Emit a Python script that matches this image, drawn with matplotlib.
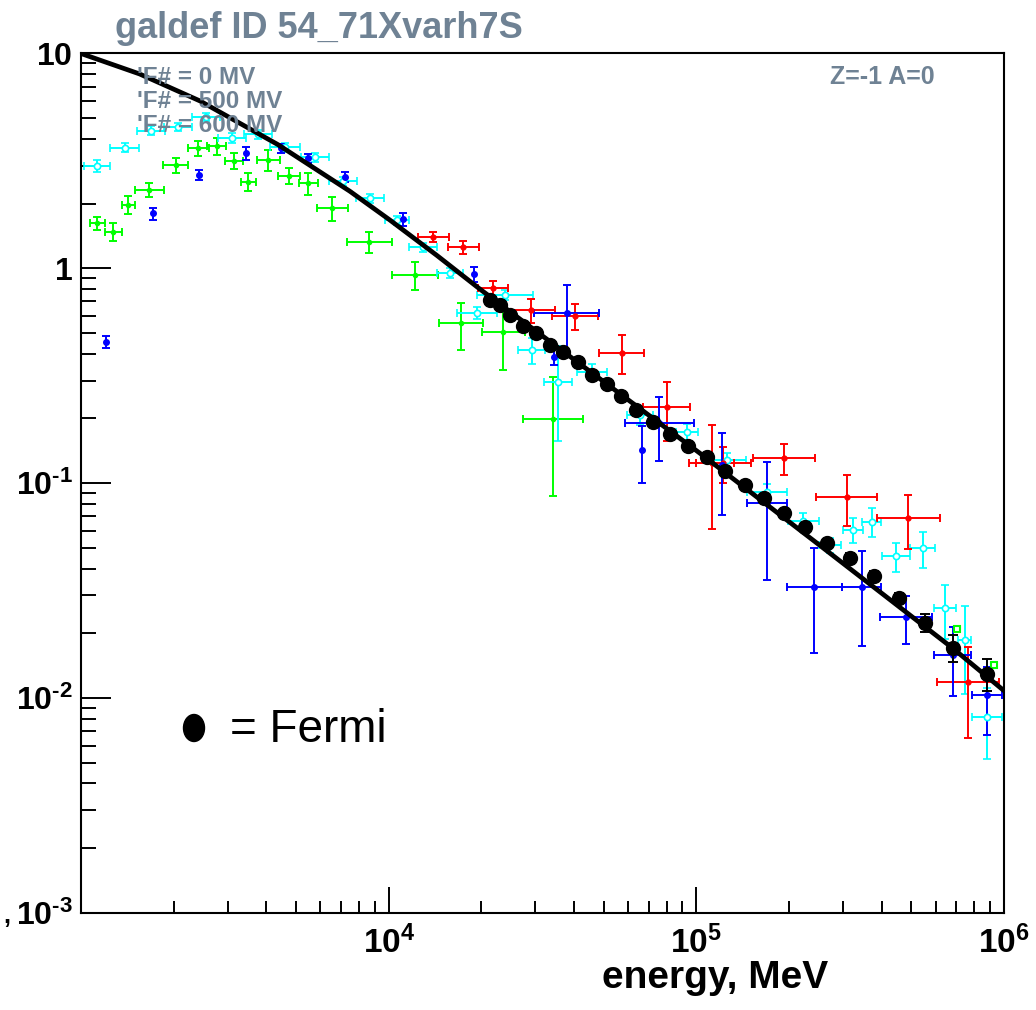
import numpy as np
import matplotlib
matplotlib.use('Agg')
import matplotlib.pyplot as plt
from matplotlib.patches import Ellipse
from matplotlib.ticker import LogLocator, NullFormatter

#%% data (energy in MeV, flux in plot units)
model_E = [1000, 1549, 2438, 4365, 7482, 10093, 14350, 19820, 41880, 102800, 252300, 682300, 1000000]
model_F = [9.98, 8.02, 6.0, 3.76, 2.28, 1.675, 1.146, 0.798, 0.358, 0.1375, 0.0512, 0.0170, 0.0108]

fermi_E = [21340, 23000, 24800, 27330, 30110, 33440, 36850, 41240, 45780, 51230, 56880, 63630, 72270, 82100,
           93900, 108200, 123900, 143900, 165900, 192600, 225400, 265700, 315600, 377800, 455400, 553400, 682300, 879800]
fermi_F = [0.7108, 0.6739, 0.6083, 0.5354, 0.4966, 0.4412, 0.4094, 0.3677, 0.3199, 0.2904, 0.2555, 0.2199, 0.1933, 0.1700,
           0.1495, 0.1315, 0.1143, 0.0984, 0.0856, 0.0729, 0.0627, 0.0528, 0.0450, 0.0371, 0.0293, 0.0224, 0.01715, 0.01298]
fermi_dF = [0.02, 0.02, 0.02, 0.015, 0.015, 0.013, 0.012, 0.011, 0.01, 0.009, 0.008, 0.007, 0.006, 0.005,
            0.005, 0.004, 0.004, 0.003, 0.003, 0.003, 0.0025, 0.002, 0.002, 0.0018, 0.0015, 0.0022, 0.0024, 0.0022]

green_E = [1130, 1274, 1425, 1667, 2031, 2405, 2761, 3142, 3498, 4061, 4753, 5480, 6557, 8650, 12180, 17140, 23580, 34120]
green_F = [1.618, 1.478, 1.968, 2.311, 3.011, 3.612, 3.702, 3.163, 2.526, 3.187, 2.685, 2.483, 1.899, 1.328, 0.929, 0.554, 0.506, 0.199]
green_dF = [0.11, 0.14, 0.19, 0.17, 0.24, 0.29, 0.34, 0.28, 0.24, 0.35, 0.23, 0.30, 0.235, 0.153, 0.14, 0.136, 0.17, 0.112]
green_dex = [0.024, 0.028, 0.021, 0.047, 0.041, 0.034, 0.031, 0.029, 0.024, 0.037, 0.036, 0.031, 0.05, 0.073, 0.074, 0.0715, 0.0705, 0.0975]

sq_E = [703000, 927000]
sq_F = [0.0209, 0.0142]

blue_E = [1206, 1718, 2424, 3438, 4457, 5480, 7211, 11100, 18970, 34450, 37880, 66420, 75770, 120900,
          169300, 241700, 344500, 479900, 680700, 879800]
blue_F = [0.4547, 1.800, 2.714, 3.424, 3.612, 3.245, 2.665, 1.688, 0.9393, 0.3872, 0.6183, 0.1424, 0.1896, 0.1213,
          0.0804, 0.0329, 0.0329, 0.02386, 0.01583, 0.01031]
blue_dF = [0.031, 0.116, 0.145, 0.225, 0.18, 0.16, 0.14, 0.112, 0.074, 0.0325, 0.214, 0.042, 0.063, 0.05,
           0.045, 0.0167, 0.0155, 0.006, 0.0056, 0.0036]
blue_dex = [0, 0, 0, 0, 0, 0, 0, 0, 0, 0, 0.105, 0, 0.112, 0, 0.065, 0.089, 0.063, 0.084, 0.061, 0.049]

red_E = [13960, 17480, 21870, 28940, 40330, 57190, 80100, 112100, 122300, 192600, 307800, 488300, 765000]
red_F = [1.401, 1.250, 0.806, 0.6385, 0.5988, 0.4041, 0.2265, 0.1239, 0.1239, 0.1303, 0.0858, 0.0685, 0.01189]
red_dF = [0.075, 0.083, 0.069, 0.081, 0.085, 0.083, 0.07, 0.063, 0.024, 0.021, 0.023, 0.019, 0.0054]
red_dex = [0.05, 0.05, 0.049, 0.079, 0.076, 0.073, 0.076, 0.073, 0.09, 0.1, 0.1, 0.103, 0.1]

cyan_E = [1127, 1385, 1688, 2067, 2548, 3096, 3760, 4603, 5761, 7104, 8697, 10640, 12930, 15820, 19360, 23880,
          29220, 35500, 45790, 65580, 93000, 125700, 169600, 222600, 271800, 323600, 371500, 445400, 543900,
          642600, 746400, 881900]
cyan_F = [2.989, 3.644, 4.372, 4.554, 5.051, 4.036, 4.212, 3.664, 3.291, 2.545, 2.121, 1.675, 1.254, 0.9493, 0.6183,
          0.75, 0.4159, 0.2961, 0.3286, 0.2072, 0.1733, 0.128, 0.0911, 0.0668, 0.0514, 0.0604, 0.0661, 0.0457,
          0.0497, 0.0261, 0.0186, 0.00817]
cyan_dF = [0.19, 0.18, 0.2, 0.2, 0.22, 0.2, 0.2, 0.18, 0.16, 0.12, 0.1, 0.08, 0.06, 0.05, 0.04, 0.04, 0.057, 0.14,
           0.03, 0.02, 0.015, 0.01, 0.008, 0.006, 0.004, 0.008, 0.0103, 0.007, 0.0093, 0.0074, 0.0082, 0.003]
cyan_dex = [0.041, 0.047, 0.044, 0.044, 0.045, 0.044, 0.045, 0.049, 0.045, 0.047, 0.045, 0.039, 0.047, 0.041,
            0.065, 0.09, 0.044, 0.046, 0.05, 0.042, 0.036, 0.062, 0.065, 0.05, 0.037, 0.032, 0.031, 0.046,
            0.04, 0.036, 0.021, 0.049]

labels_F = ["'F# = 0 MV", "'F# = 500 MV", "'F# = 600 MV"]
xtick_vals = [1e4, 1e5, 1e6]
xtick_labs = [r'$10^{4}$', r'$10^{5}$', r'$10^{6}$']
ytick_vals = [1e-3, 1e-2, 1e-1, 1, 10]
ytick_labs = [r'$10^{\text{-}3}$', r'$10^{\text{-}2}$', r'$10^{\text{-}1}$', r'$1$', r'$10$']


def xbars(E, dex):
    # bin half widths given in decades -> asymmetric linear errors
    E = np.asarray(E, float)
    d = np.asarray(dex, float)
    return np.vstack([E - E * 10**(-d), E * 10**d - E])


#%% figure
plt.rcParams['font.family'] = 'Liberation Sans'
plt.rcParams['mathtext.fontset'] = 'custom'
plt.rcParams['mathtext.rm'] = 'Liberation Sans:bold'
plt.rcParams['mathtext.it'] = 'Liberation Sans:bold'
plt.rcParams['mathtext.bf'] = 'Liberation Sans:bold'

fig = plt.figure(figsize=(10.36, 10.10), dpi=100)
ax = fig.add_axes([0.0782, 0.0963, 0.8909, 0.8509])
ax.set_xscale('log')
ax.set_yscale('log')
ax.set_xlim(1e3, 1e6)
ax.set_ylim(1e-3, 10)

grey = '#6f8294'
eb = dict(linestyle='none', capsize=3, capthick=1.4, elinewidth=1.4)

ax.errorbar(green_E, green_F, yerr=green_dF, xerr=xbars(green_E, green_dex), fmt='o', ms=3,
            color='#00ff00', zorder=3, **eb)
ax.errorbar(cyan_E, cyan_F, yerr=cyan_dF, xerr=xbars(cyan_E, cyan_dex), fmt='o', ms=4.5, mfc='white',
            mew=1.2, color='#00ffff', zorder=3, **eb)
ax.errorbar(red_E, red_F, yerr=red_dF, xerr=xbars(red_E, red_dex), fmt='o', ms=3.5,
            color='#ff0000', zorder=3, **eb)
ax.errorbar(blue_E, blue_F, yerr=blue_dF, xerr=xbars(blue_E, blue_dex), fmt='o', ms=4,
            color='#0000ff', zorder=3, **eb)
ax.plot(sq_E, sq_F, linestyle='none', marker='s', ms=5, mfc='white', mec='#00ff00', mew=1.5, zorder=3)

ax.plot(model_E, model_F, color='black', linewidth=3.4, zorder=4)
ax.errorbar(fermi_E, fermi_F, yerr=fermi_dF, fmt='o', ms=10, color='black', ecolor='black',
            linestyle='none', capsize=3.5, capthick=1.4, elinewidth=1.4, zorder=5)

#%% axes styling
ax.set_xticks(xtick_vals, labels=xtick_labs)
ax.set_yticks(ytick_vals, labels=ytick_labs)
ax.xaxis.set_minor_locator(LogLocator(base=10, subs=np.arange(2, 10)))
ax.yaxis.set_minor_locator(LogLocator(base=10, subs=np.arange(2, 10)))
ax.xaxis.set_minor_formatter(NullFormatter())
ax.yaxis.set_minor_formatter(NullFormatter())
ax.tick_params(which='both', direction='in', top=False, right=False, width=1.4, colors='black')
ax.tick_params(axis='x', which='major', length=18.5, labelsize=24, pad=9)
ax.tick_params(axis='x', which='minor', length=9)
ax.tick_params(axis='y', which='major', length=21.5, labelsize=23, pad=6)
ax.tick_params(axis='y', which='minor', length=11)
for s in ax.spines.values():
    s.set_linewidth(1.5)

#%% texts
fig.text(0.111, 1 - 29 / 1010, 'galdef ID 54_71Xvarh7S', fontsize=26, fontweight='bold', color=grey,
         ha='left', va='center')
for i, lab in enumerate(labels_F):
    fig.text(0.132, 1 - (77 + 24.5 * i) / 1010, lab, fontsize=17.5, fontweight='bold', color=grey,
             ha='left', va='center', zorder=1)
fig.text(0.801, 1 - 77 / 1010, 'Z=-1 A=0', fontsize=18, fontweight='bold', color=grey, ha='left', va='center')
fig.text(0.69, 1 - 978 / 1010, 'energy, MeV', fontsize=28, fontweight='bold', ha='center', va='center')
fig.text(0.003, 1 - 916 / 1010, ',', fontsize=18, fontweight='bold', ha='left', va='center')

fig.patches.append(Ellipse((194 / 1036, 1 - 728 / 1010), 21 / 1036, 27 / 1010, color='black',
                           transform=fig.transFigure, figure=fig))
fig.text(0.222, 1 - 730 / 1010, '= Fermi', fontsize=33, ha='left', va='center')

fig.savefig('out.png', dpi=100)
